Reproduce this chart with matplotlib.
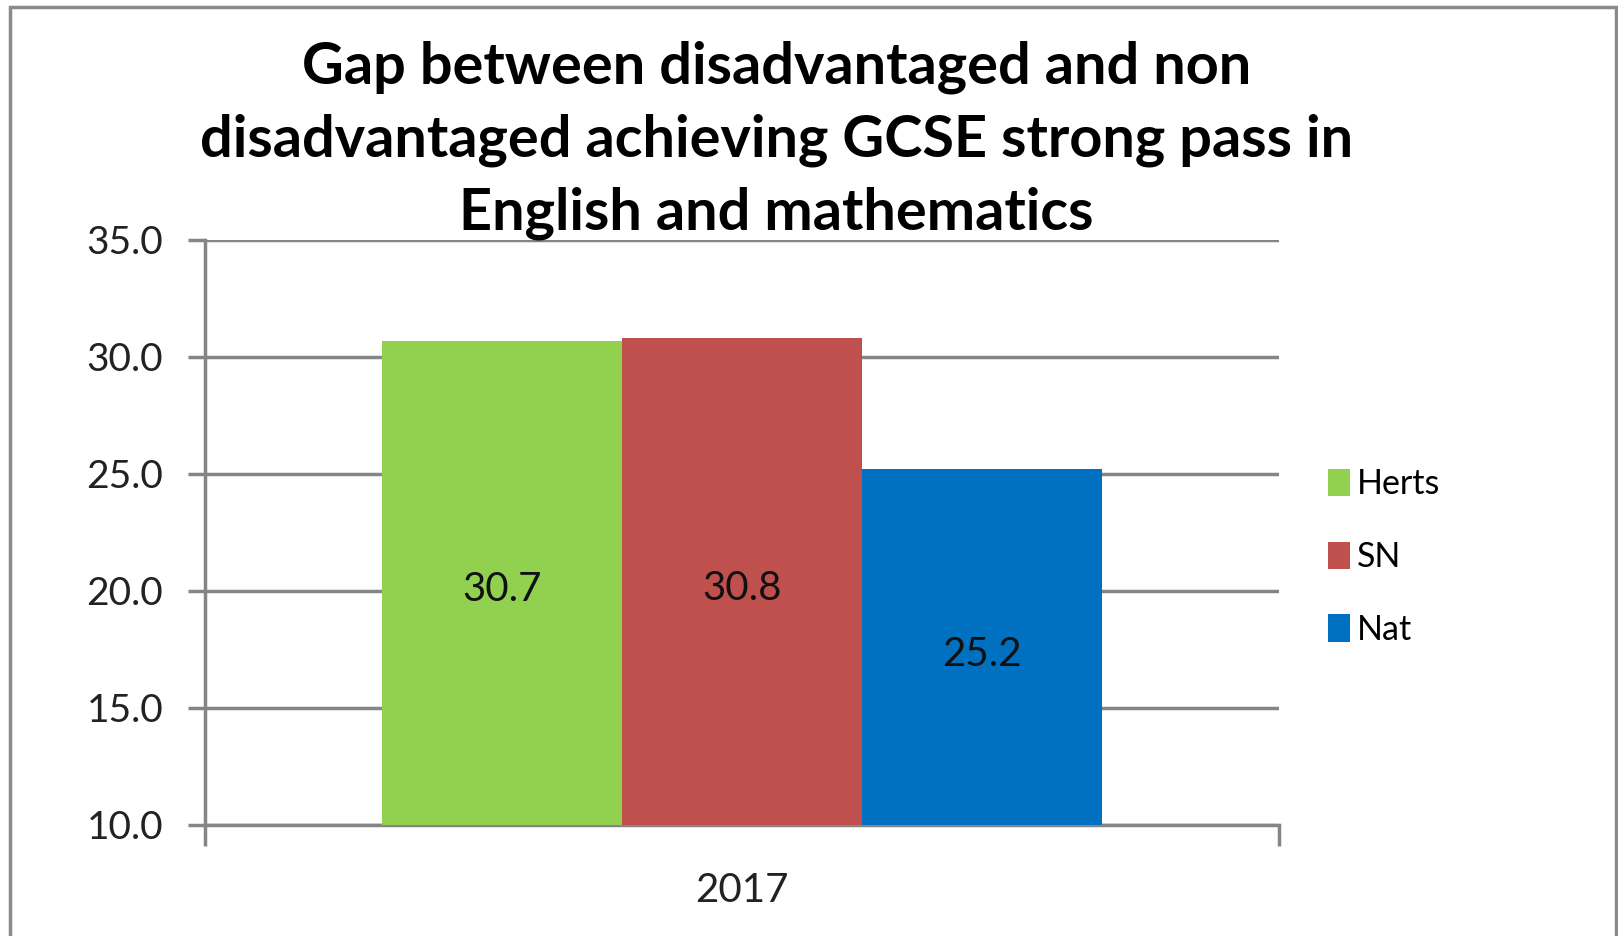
import numpy as np
import matplotlib.pyplot as plt
from matplotlib.patches import Rectangle

# data
years = ['2017']
series = ['Herts', 'SN', 'Nat']
values = [30.7, 30.8, 25.2]
colors = ['#92D050', '#C0504D', '#0070C0']

title = ("Gap between disadvantaged and non\n"
         "disadvantaged achieving GCSE strong pass in\n"
         "English and mathematics")

plt.rcParams['font.family'] = ['Lato', 'DejaVu Sans']

fig = plt.figure(figsize=(16.18, 9.36), dpi=100)
ax = fig.add_axes([0.1267, 0.1186, 0.7905 - 0.1267, 0.7436 - 0.1186])

grid_col = '#858585'
bar_w = 0.2235
offsets = (np.arange(len(series)) - 1) * bar_w

for i, (name, val, col) in enumerate(zip(series, values, colors)):
    ax.bar(offsets[i], val - 10, bottom=10, width=bar_w, color=col,
           label=name, zorder=3)
    ax.annotate(f"{val:.1f}", (offsets[i], (10 + val) / 2),
                xytext=(0, -5), textcoords='offset points',
                ha='center', va='center', fontsize=29, color='#111111',
                zorder=4)

ax.set_xlim(-0.5, 0.5)
ax.set_ylim(10, 35)
ax.set_yticks(np.arange(10, 36, 5))
ax.set_yticklabels([f"{v:.1f}" for v in np.arange(10, 36, 5)],
                   fontsize=28, color='#222222')
ax.yaxis.grid(True, color=grid_col, linewidth=2.5, zorder=0)
ax.tick_params(axis='y', length=12, width=2.5, color=grid_col, pad=18)

ax.set_xticks([-0.5, 0.5])
ax.set_xticklabels(['', ''])
ax.tick_params(axis='x', length=15, width=2.5, color=grid_col)
ax.set_xticks([0], minor=True)
ax.set_xticklabels(years, minor=True, fontsize=29, color='#222222')
ax.tick_params(axis='x', which='minor', length=0, pad=34)

for s in ['top', 'right']:
    ax.spines[s].set_visible(False)
for s in ['left', 'bottom']:
    ax.spines[s].set_color(grid_col)
    ax.spines[s].set_linewidth(2.5)

leg = fig.legend(loc='center left', bbox_to_anchor=(0.802, 0.405),
                 frameon=False, fontsize=24.5, handlelength=0.65,
                 handleheight=0.85, handletextpad=0.2, labelspacing=1.2)

fig.text(0.48, 0.85, title, ha='center', va='center', fontsize=41.5,
         fontweight='bold', linespacing=1.45)

# outer chart border
fig.patches.append(Rectangle((10 / 1618, -0.01), (1616 - 10) / 1618, 1 - 7 / 936 + 0.01,
                             transform=fig.transFigure, fill=False,
                             edgecolor='#8a8a8a', linewidth=2.5))

fig.savefig('out.png', dpi=100)
